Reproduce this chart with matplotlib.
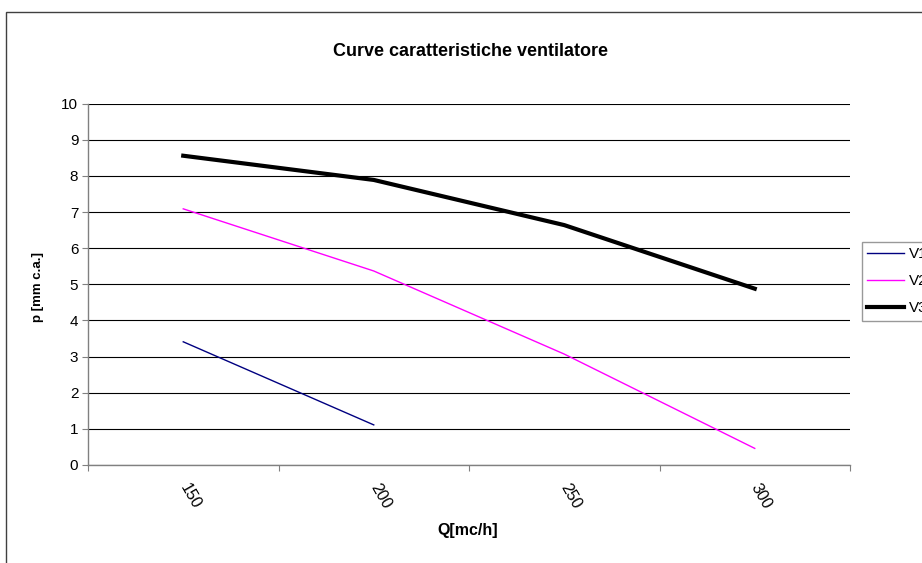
import matplotlib
matplotlib.use('Agg')
import matplotlib.pyplot as plt
from matplotlib.patches import Rectangle

plt.rcParams['font.family'] = ['Liberation Sans', 'DejaVu Sans']

# dati
portate = ['150', '200', '250', '300']
v1 = [3.41, 1.11]
v2 = [7.09, 5.37, 3.07, 0.46]
v3 = [8.56, 7.89, 6.64, 4.88]

W, H = 922, 563
fig = plt.figure(figsize=(W / 100, H / 100), dpi=100)
fig.patch.set_facecolor('white')

# cornice del grafico (tagliata a destra e in basso)
fig.patches.append(Rectangle((6 / W, -0.1), 1.2, (H - 12) / H + 0.1,
                             transform=fig.transFigure, fill=False,
                             edgecolor='#404040', linewidth=1.0))

ax = fig.add_axes([88 / W, (H - 465) / H, (850 - 88) / W, (465 - 103.7) / H])

x = list(range(len(portate)))
ax.plot(x[:len(v1)], v1, color='#000080', linewidth=1.0, label='V1')
ax.plot(x, v2, color='#FF00FF', linewidth=1.0, label='V2')
ax.plot(x, v3, color='black', linewidth=3.0, label='V3')

ax.set_xlim(-0.5, len(portate) - 0.5)
ax.set_ylim(0, 10)
ax.set_yticks(range(0, 11))
ax.yaxis.grid(True, color='black', linewidth=0.8)
ax.set_axisbelow(True)

# tacche sui bordi delle categorie, etichette al centro
ax.set_xticks([i - 0.5 for i in range(len(portate) + 1)])
ax.set_xticklabels([])
ax.set_xticks(x, minor=True)
ax.set_xticklabels(portate, minor=True, rotation=-60, ha='left', va='center',
                   rotation_mode='anchor', fontsize=11.5)
ax.tick_params(axis='x', which='minor', length=0, pad=14)
ax.tick_params(axis='x', which='major', length=4, color='#808080', direction='out')
ax.tick_params(axis='y', length=4, color='#808080', labelsize=11, pad=3)

for s in ['top', 'right']:
    ax.spines[s].set_visible(False)
for s in ['left', 'bottom']:
    ax.spines[s].set_color('#808080')
    ax.spines[s].set_linewidth(1.0)

fig.text(470 / W, 1 - 51 / H, 'Curve caratteristiche ventilatore',
         ha='center', va='center', fontsize=13, fontweight='bold')
fig.text(38 / W, 1 - 287 / H, 'p [mm c.a.]', rotation=90,
         ha='center', va='center', fontsize=9.5, fontweight='bold')
fig.text(468 / W, 1 - 531 / H, 'Q[mc/h]', ha='center', va='center',
         fontsize=11.5, fontweight='bold')

leg = ax.legend(loc='upper left',
                bbox_to_anchor=((862 - 88) / (850 - 88), (465 - 242) / (465 - 103.7)),
                borderaxespad=0, frameon=True, fancybox=False, fontsize=11,
                handlelength=2.4, borderpad=0.35, labelspacing=0.85,
                handletextpad=0.3)
leg.get_frame().set_edgecolor('#808080')
leg.get_frame().set_linewidth(1.0)

fig.savefig('out.png', dpi=100)
